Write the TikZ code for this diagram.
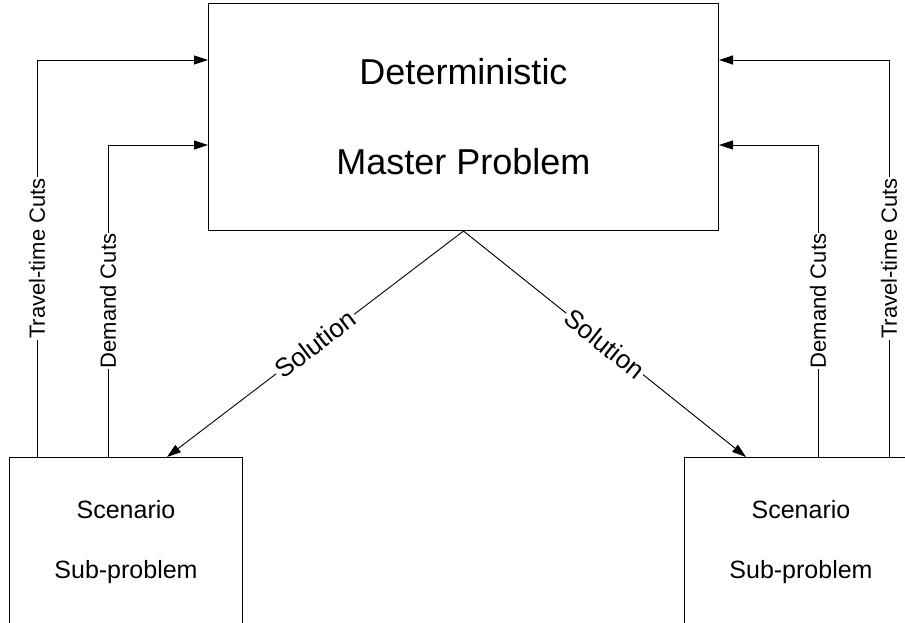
\documentclass[tikz,border=0pt]{standalone}
\usepackage{fontspec}
\setmainfont{Liberation Sans}
\usetikzlibrary{positioning,arrows.meta}

\begin{document}
\begin{tikzpicture}[x=1pt, y=1pt,
  master/.style={draw, line width=1pt, minimum width=510pt, minimum height=227pt, align=center, font=\fontsize{36}{90}\selectfont},
  sub/.style={draw, line width=1pt, minimum width=233pt, minimum height=170pt, align=center, font=\fontsize{25}{60}\selectfont},
  cut/.style={line width=0.9pt, -{Triangle[length=14pt,width=9pt]}},
  lbl/.style={fill=white, inner sep=1pt, rotate=90, font=\fontsize{22}{26}\selectfont},
  sol/.style={fill=white, inner sep=2pt, sloped, font=\fontsize{26}{30}\selectfont}]
\useasboundingbox (0,0) rectangle (905,622);
\node[master, anchor=north west] (dmp) at (208,619) {Deterministic\\Master Problem};
\node[sub, below left=226pt and -35pt of dmp.south west] (sp1) {Scenario\\Sub-problem};
\node[sub, below right=226pt and -35pt of dmp.south east] (sp2) {Scenario\\Sub-problem};
\draw[cut] ([xshift=28pt]sp1.north west) |- node[lbl, pos=0.25] {Travel-time Cuts} ([yshift=-57pt]dmp.north west);
\draw[cut] ([xshift=99pt]sp1.north west) |- node[lbl, pos=0.25] {Demand Cuts} ([yshift=-142pt]dmp.north west);
\draw[cut] ([xshift=134pt]sp2.north west) |- node[lbl, pos=0.25] {Demand Cuts} ([yshift=-142pt]dmp.north east);
\draw[cut] ([xshift=205pt]sp2.north west) |- node[lbl, pos=0.25] {Travel-time Cuts} ([yshift=-57pt]dmp.north east);
\draw[cut] (dmp.south) -- node[sol] {Solution} ([xshift=-76pt]sp1.north east);
\draw[cut] (dmp.south) -- node[sol] {Solution} ([xshift=62pt]sp2.north west);
\end{tikzpicture}
\end{document}
